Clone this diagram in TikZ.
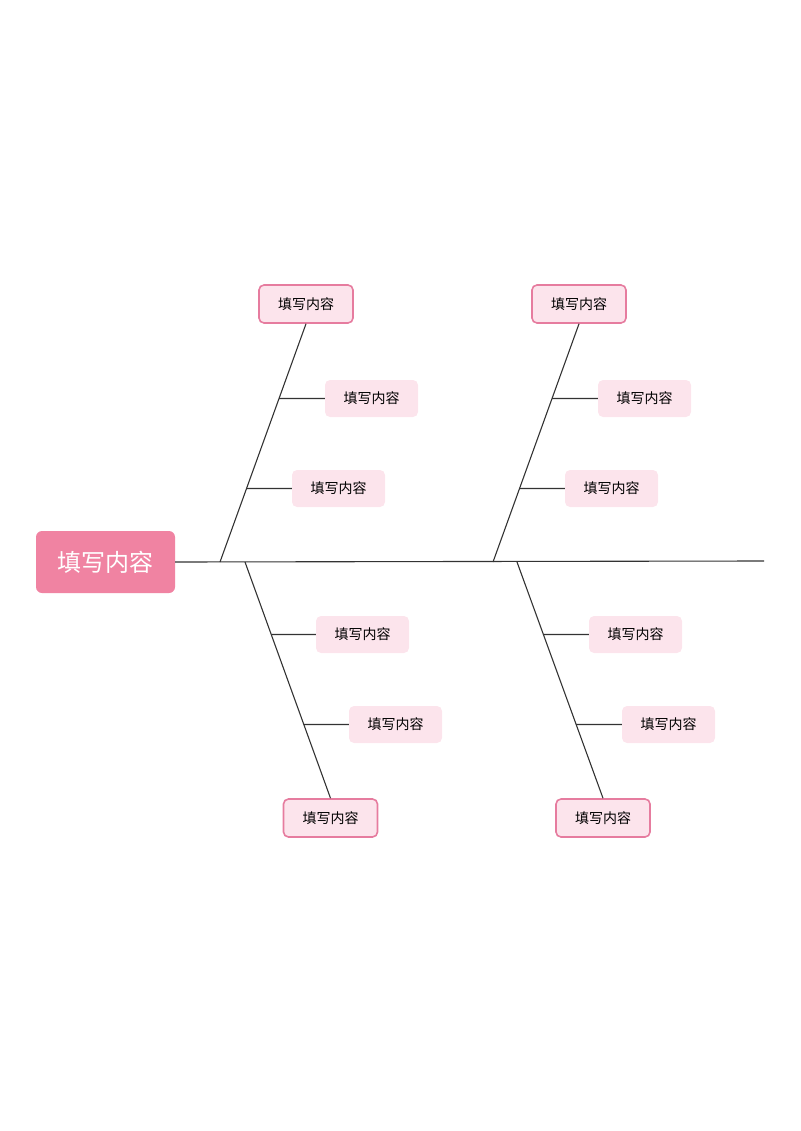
\documentclass[tikz,border=0pt]{standalone}
\usepackage{fontspec}
\newfontfamily\cjk{Noto Sans CJK SC}
\definecolor{headpink}{HTML}{F083A2}
\definecolor{boxline}{HTML}{E67C9F}
\definecolor{boxfill}{HTML}{FCE4EC}
\definecolor{bone}{HTML}{333333}
\begin{document}
\begin{tikzpicture}[x=1pt,y=-1pt,
  headbox/.style={fill=headpink,rounded corners=6pt,minimum width=139pt,minimum height=62pt,inner sep=0pt,text=white,font=\cjk\fontsize{24}{28}\selectfont},
  endbox/.style={draw=boxline,line width=1.6pt,fill=boxfill,rounded corners=5pt,minimum width=94pt,minimum height=38pt,inner sep=0pt,font=\cjk\fontsize{14}{16}\selectfont},
  subbox/.style={fill=boxfill,rounded corners=5pt,minimum width=93pt,minimum height=37pt,inner sep=0pt,font=\cjk\fontsize{14}{16}\selectfont},
  boneline/.style={draw=bone,line width=1.1pt}]
\useasboundingbox (0,0) rectangle (800,1131);
% head and spine
\node[headbox] (head) at (105.5,562) {填写内容};
\coordinate (tail) at (764,561);
\draw[boneline] (head.east) -- (tail);
% top-left
\node[endbox] (tl) at (306,304) {填写内容};
\coordinate (tlr) at (220,562);
\draw[boneline] (tlr) -- (tl.south);
\node[subbox] (tl1) at (371.5,398.5) {填写内容};
\node[subbox] (tl2) at (338.5,488.5) {填写内容};
\draw[boneline] (intersection of tlr--tl.south and tl1.west--tl1.east) -- (tl1.west);
\draw[boneline] (intersection of tlr--tl.south and tl2.west--tl2.east) -- (tl2.west);
% bottom-left
\node[endbox] (bl) at (330.5,818) {填写内容};
\coordinate (blr) at (245,562);
\draw[boneline] (blr) -- (bl.north);
\node[subbox] (bl1) at (362.5,634.5) {填写内容};
\node[subbox] (bl2) at (395.5,724.5) {填写内容};
\draw[boneline] (intersection of blr--bl.north and bl1.west--bl1.east) -- (bl1.west);
\draw[boneline] (intersection of blr--bl.north and bl2.west--bl2.east) -- (bl2.west);
% top-right
\node[endbox] (tr) at (579,304) {填写内容};
\coordinate (trr) at (493,562);
\draw[boneline] (trr) -- (tr.south);
\node[subbox] (tr1) at (644.5,398.5) {填写内容};
\node[subbox] (tr2) at (611.5,488.5) {填写内容};
\draw[boneline] (intersection of trr--tr.south and tr1.west--tr1.east) -- (tr1.west);
\draw[boneline] (intersection of trr--tr.south and tr2.west--tr2.east) -- (tr2.west);
% bottom-right
\node[endbox] (br) at (603,818) {填写内容};
\coordinate (brr) at (517,562);
\draw[boneline] (brr) -- (br.north);
\node[subbox] (br1) at (635.5,634.5) {填写内容};
\node[subbox] (br2) at (668.5,724.5) {填写内容};
\draw[boneline] (intersection of brr--br.north and br1.west--br1.east) -- (br1.west);
\draw[boneline] (intersection of brr--br.north and br2.west--br2.east) -- (br2.west);
\end{tikzpicture}
\end{document}
